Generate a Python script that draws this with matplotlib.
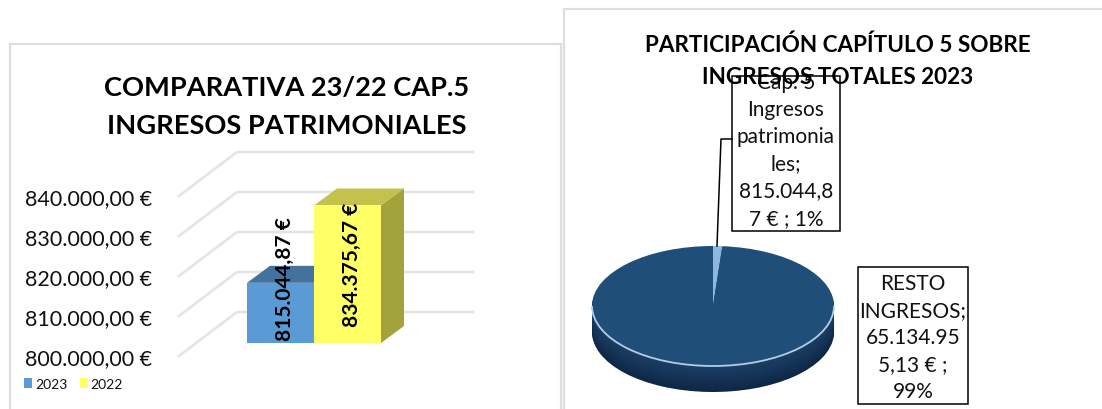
import matplotlib
matplotlib.use("Agg")
import matplotlib.pyplot as plt
from matplotlib.patches import Polygon, Rectangle, Arc
from matplotlib.ticker import FixedLocator, FixedFormatter

plt.rcParams['font.family'] = ['Lato', 'DejaVu Sans']

# ---------- data ----------
years = ['2023', '2022']
bar_values = [815044.87, 834375.67]
bar_labels = ['815.044,87 €', '834.375,67 €']
y_ticks = [800000, 810000, 820000, 830000, 840000]
y_tick_labels = ['800.000,00 €', '810.000,00 €', '820.000,00 €', '830.000,00 €', '840.000,00 €']
pie_values = [815044.87, 65134955.13]
left_title = 'COMPARATIVA 23/22 CAP.5\nINGRESOS PATRIMONIALES'
right_title = 'PARTICIPACIÓN CAPÍTULO 5 SOBRE\nINGRESOS TOTALES 2023'
pie_label_1 = 'Cap. 5\nIngresos\npatrimonia\nles;\n815.044,8\n7 € ; 1%'
pie_label_2 = 'RESTO\nINGRESOS;\n65.134.95\n5,13 € ;\n99%'

# ---------- styles ----------
W, H = 1102, 410
BLUE, BLUE_TOP = '#5b9bd5', '#44729f'
YEL, YEL_TOP, YEL_SIDE = '#ffff66', '#c2c24d', '#a3a33d'
PANEL = '#dedede'
GRID = '#e4e4e4'

fig = plt.figure(figsize=(W / 100, H / 100), dpi=100, facecolor='white')


def axes_px(x0, x1, y0, y1, **kw):
    return fig.add_axes([x0 / W, 1 - y1 / H, (x1 - x0) / W, (y1 - y0) / H], **kw)


# overlay in pixel coordinates for panels, titles and label boxes
bg = axes_px(0, W, 0, H)
bg.set_xlim(0, W)
bg.set_ylim(H, 0)
bg.axis('off')
bg.set_zorder(3)
bg.patch.set_alpha(0)

bg.plot([9.5, 9.5, 561, 561], [H, 44.5, 44.5, H], color=PANEL, lw=1.6, solid_joinstyle='miter')
bg.plot([563.5, 563.5, W], [H, 10, 10], color=PANEL, lw=1.6, solid_joinstyle='miter')

bg.text(287, 107, left_title, ha='center', va='center', fontsize=19.6,
        fontweight='bold', linespacing=1.66, color='black', zorder=6)
bg.text(838, 61.5, right_title, ha='center', va='center', fontsize=16.2,
        fontweight='bold', linespacing=1.64, color='black', zorder=6)

bg.add_patch(Rectangle((732, 77), 108, 155, fc='white', ec='black', lw=1.1, zorder=3))
bg.add_patch(Rectangle((858, 268), 109.5, 137, fc='white', ec='black', lw=1.1, zorder=3))
bg.text(786, 151, pie_label_1, ha='center', va='center', fontsize=15,
        linespacing=1.44, color='#111111', zorder=4)
bg.text(913, 338, pie_label_2, ha='center', va='center', fontsize=15,
        linespacing=1.44, color='#111111', zorder=4)
bg.plot([717, 721, 732], [247, 140, 140], color='black', lw=1.1, zorder=3)

# ---------- 3-D style column chart ----------
PX_PER_VALUE = 40 / 10000      # px per euro
PX_PER_CAT = 67
ax_l, ax_r, ax_t, ax_b = 179, 473, 140, 370
ax = axes_px(ax_l, ax_r, ax_t, ax_b)
ax.patch.set_alpha(0)
ax.set_zorder(2)
cat0_px = 280.5
ax.set_xlim((ax_l - cat0_px) / PX_PER_CAT, (ax_r - cat0_px) / PX_PER_CAT)
front_px = 357
ax.set_ylim(800000 - (ax_b - front_px) / PX_PER_VALUE, 800000 + (front_px - ax_t) / PX_PER_VALUE)
for s in ax.spines.values():
    s.set_visible(False)
ax.xaxis.set_visible(False)
ax.yaxis.set_major_locator(FixedLocator(y_ticks))
ax.yaxis.set_major_formatter(FixedFormatter(y_tick_labels))
ax.tick_params(axis='y', length=0, pad=19.4, labelsize=15.5, labelcolor='#111111')

# floor-to-wall gridlines
wall_dx = 58 / PX_PER_CAT
wall_dy = 44 / PX_PER_VALUE
x_front = ax.get_xlim()[0]
x_right = ax.get_xlim()[1]
for t in y_ticks:
    ax.plot([x_front, x_front + wall_dx, x_right], [t, t + wall_dy, t + wall_dy],
            color=GRID, lw=1.9, zorder=1, solid_joinstyle='miter', clip_on=False)

# bars sit part-way into the depth of the floor
bar_shift = 13 / PX_PER_VALUE
dx = 23 / PX_PER_CAT
dy = 17 / PX_PER_VALUE
base = 800000 + bar_shift
fronts = [BLUE, YEL]
tops = [BLUE_TOP, YEL_TOP]
sides = [BLUE_TOP, YEL_SIDE]
for i, (v, yr) in enumerate(zip(bar_values, years)):
    top = v + bar_shift
    l, r = i - 0.5, i + 0.5
    z = 2 + i
    ax.add_patch(Polygon([(l, top), (r, top), (r + dx, top + dy), (l + dx, top + dy)],
                         fc=tops[i], ec='none', zorder=z))
    ax.add_patch(Polygon([(r, base), (r + dx, base + dy), (r + dx, top + dy), (r, top)],
                         fc=sides[i], ec='none', zorder=z))
    ax.bar(i, v - 800000, bottom=base, width=1, color=fronts[i], label=yr, zorder=z + 0.5)

# value labels: each runs upward from just above the bar's base
for i, txt in enumerate(bar_labels):
    start = base + (3 if i == 0 else 17) / PX_PER_VALUE
    ax.text(i + 0.06, start, txt, rotation=90, ha='center', va='bottom', fontsize=15,
            fontweight='bold', color='black', zorder=6)

leg = ax.legend(loc='lower left', bbox_to_anchor=(24 / W, 1 - 391 / H),
                bbox_transform=fig.transFigure, ncol=2, frameon=False, fontsize=10,
                handlelength=0.58, handleheight=0.75, handletextpad=0.2, columnspacing=0.9,
                borderpad=0, borderaxespad=0, labelcolor='#111111')

# ---------- 3-D style pie ----------
CX, CY, RX, RY, DEPTH = 713, 307, 121, 60, 26
xm, ytop, ybot = 1.05, 1.05, 1 + (DEPTH + 8) / RY
pax = axes_px(CX - xm * RX, CX + xm * RX, CY - ytop * RY, CY + ybot * RY)
pax.set_zorder(1)
c_a, c_b = (0x1c / 255, 0x40 / 255, 0x68 / 255), (0x0e / 255, 0x27 / 255, 0x45 / 255)
for k in range(DEPTH, 0, -1):
    f = k / DEPTH
    col = tuple(a + (b - a) * f for a, b in zip(c_a, c_b))
    pax.pie(pie_values, colors=[col, col], startangle=90, counterclock=False,
            center=(0, -k / RY), radius=1)
pax.pie(pie_values, colors=['#8db8dd', '#1f4e79'], startangle=90, counterclock=False,
        center=(0, 0), radius=1)
pax.add_patch(Arc((0, 0), 2, 2, theta1=180, theta2=360, color='#b4cde2', lw=1.3, zorder=5))
pax.set_aspect('auto')
pax.set_xlim(-xm, xm)
pax.set_ylim(-ybot, ytop)

fig.savefig('out.png', dpi=100)
